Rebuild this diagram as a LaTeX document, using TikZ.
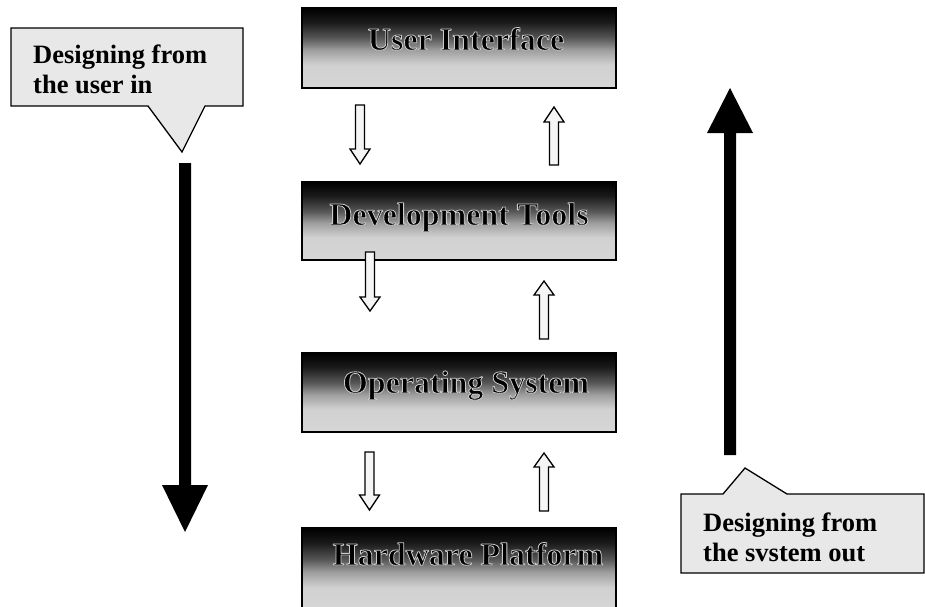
\documentclass[tikz,border=0pt]{standalone}
\usepackage{fontspec}
\setmainfont{Liberation Serif}
\pgfdeclareverticalshading{boxshade}{100bp}{color(0bp)=(black!16); color(25bp)=(black!16); color(39.5bp)=(black!18); color(48.75bp)=(black!38); color(56.25bp)=(black!66); color(66.25bp)=(black!90); color(75bp)=(black); color(100bp)=(black)}
% glow round the letters: fill black, stroke light grey (text render mode 2)
\newcommand\halotext[1]{\special{pdf:literal direct 2 Tr 0.8 w 1 j 0.8 G}#1\special{pdf:literal direct 0 Tr 0 G}}
\newcommand\blockarrow[4]{\draw[hollow] (#1-4.5,#2) -- (#1+4.5,#2) -- (#1+4.5,#3) -- (#1+10,#3) -- (#1,#4) -- (#1-10,#3) -- (#1-4.5,#3) -- cycle;}
\begin{document}
\begin{tikzpicture}[x=1pt,y=-1pt,
  layerbox/.style={draw=black, line width=1.4pt, shading=boxshade, minimum width=314pt, inner sep=0pt},
  titlefont/.style={font=\fontsize{32}{36}\selectfont\bfseries, inner sep=0pt, anchor=base, text=black},
  callout/.style={draw=black, line width=1.3pt, fill=black!9, line join=miter},
  callfont/.style={font=\fontsize{26.5}{30}\selectfont\bfseries, inner sep=0pt, anchor=base west},
  hollow/.style={draw=black, line width=1.3pt, fill=black!4, line join=miter},
  bigarrow/.style={fill=black}]
\fill[white] (0,0) rectangle (925,606);
\useasboundingbox (0,0) rectangle (925,606);

% layer boxes
\node[layerbox, minimum height=80pt] (ui) at (459,48) {};
\node[layerbox, minimum height=78pt] (dt) at (459,221) {};
\node[layerbox, minimum height=79pt] (os) at (459,392.5) {};
\node[layerbox, minimum height=84pt] (hp) at (459,570) {};

\node[titlefont] (uit) at (466,50) {\halotext{User Interface}};
\node[titlefont] (dtt) at (459,225) {\halotext{Development Tools}};
\node[titlefont] (ost) at (466,393) {\halotext{Operating System}};
\node[titlefont] (hpt) at (468,565) {\halotext{Hardware Platform}};

% hollow arrows (x, tail, head base, tip)
\blockarrow{360}{105}{149}{164}
\blockarrow{554}{165}{122}{107}
\blockarrow{370}{252}{297}{311}
\blockarrow{544}{339}{295}{281}
\blockarrow{369.5}{452}{495}{510}
\blockarrow{544}{511}{467}{453}

% big black arrows
\fill[bigarrow] (179,163) -- (191,163) -- (191,485) -- (208,485) -- (185,532) -- (162,485) -- (179,485) -- cycle;
\fill[bigarrow] (724,455) -- (736,455) -- (736,133) -- (753,133) -- (730,88) -- (707,133) -- (724,133) -- cycle;

% callouts
\draw[callout] (11,28) -- (243,28) -- (243,106) -- (205,106) -- (182,152) -- (148,106) -- (11,106) -- cycle;
\node[callfont] (l1) at (33,63) {Designing from};
\node[callfont] (l2) at (33,93) {the user in};

\draw[callout] (681,494) -- (723,494) -- (745,468) -- (787,494) -- (924,494) -- (924,573) -- (681,573) -- cycle;
\node[callfont] (r1) at (703,531) {Designing from};
\node[callfont] (r2) at (703,561) {the svstem out};
\end{tikzpicture}
\end{document}
